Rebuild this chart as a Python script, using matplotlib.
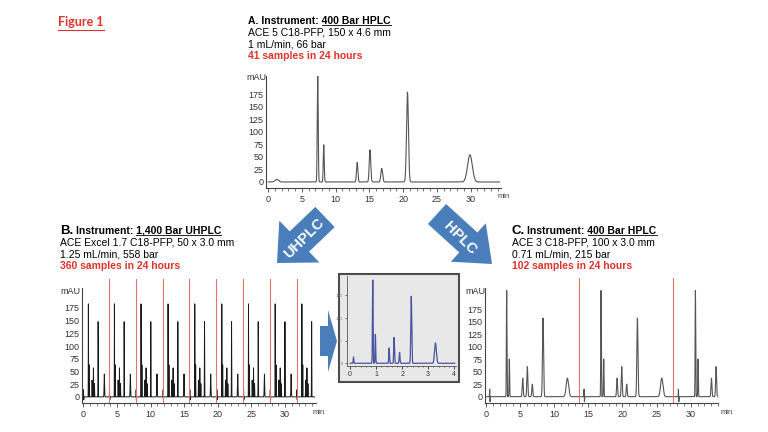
import numpy as np
import matplotlib
matplotlib.use("Agg")
import matplotlib.pyplot as plt
from matplotlib.patches import FancyArrow, Rectangle
from matplotlib.ticker import MultipleLocator

W, H = 768, 432
plt.rcParams['font.family'] = ['Liberation Sans', 'DejaVu Sans']

RED = '#e0322b'
BLUE = '#4a7ebb'

# panel A: 400 bar HPLC, one run (last entry of each list = baseline bump)
a_rt = [7.36, 8.25, 13.2, 15.1, 16.84, 20.65, 29.9, 1.3]
a_height = [211, 74, 39, 64, 27, 179, 54, 5]
a_sigma = [0.07, 0.07, 0.1, 0.11, 0.13, 0.14, 0.35, 0.25]

# panel B: 1400 bar UHPLC, peaks after each injection (last entry = injection dip)
b_rt = [0.07, 0.8, 0.93, 1.35, 1.55, 1.7, 2.25, 3.17, 0.11]
b_height = [14, 183, 63, 33, 57, 26, 148, 45, -6]
b_sigma = [0.012, 0.012, 0.012, 0.014, 0.015, 0.016, 0.018, 0.035, 0.008]
b_inject = [-0.05, 3.82, 7.78, 11.8, 15.77, 19.79, 23.76, 27.73, 31.7]
b_red = [3.82, 7.78, 11.8, 15.77, 19.79, 23.76, 27.73, 31.7]

# inset: one UHPLC run, 0-4 min
in_rt = [0.13, 0.87, 0.97, 1.5, 1.69, 1.9, 2.35, 3.28]
in_height = [14, 184, 64, 34, 57, 24, 148, 45]
in_sigma = [0.012, 0.012, 0.012, 0.014, 0.015, 0.016, 0.018, 0.035]

# panel C: 400 bar HPLC, short column (last entry = injection dip)
c_rt = [0.54, 3.03, 3.42, 5.38, 6.06, 6.79, 8.36, 11.93, 0.6]
c_height = [15, 212, 75, 37, 60, 25, 157, 37, -10]
c_sigma = [0.02, 0.04, 0.04, 0.07, 0.07, 0.07, 0.08, 0.18, 0.02]
c_inject = [0, 13.83, 27.66]
c_red = [13.64, 27.47]

x_ticks = [0, 5, 10, 15, 20, 25, 30]
y_ticks = [0, 25, 50, 75, 100, 125, 150, 175]


def chrom(t, starts, rts, hs, sig):
    y = np.zeros_like(t)
    for s0 in starts:
        for r, h, s in zip(rts, hs, sig):
            y += h * np.exp(-0.5 * ((t - s0 - r) / s) ** 2)
    return y


fig = plt.figure(figsize=(7.68, 4.32), dpi=100)
ov = fig.add_axes([0, 0, 1, 1])
ov.set_xlim(0, W)
ov.set_ylim(H, 0)
ov.axis('off')
renderer = fig.canvas.get_renderer()


def pix_axes(x0, y0, x1, y1):
    return fig.add_axes([x0 / W, 1 - y1 / H, (x1 - x0) / W, (y1 - y0) / H])


def style(ax, xlim, ylim, ytop):
    ax.set_xlim(*xlim)
    ax.set_ylim(*ylim)
    ax.patch.set_visible(False)
    for s in ['top', 'right']:
        ax.spines[s].set_visible(False)
    for s in ['left', 'bottom']:
        ax.spines[s].set_color('#444444')
        ax.spines[s].set_linewidth(0.8)
    ax.spines['left'].set_bounds(ylim[0], ytop)
    ax.set_xticks(x_ticks)
    ax.xaxis.set_minor_locator(MultipleLocator(1))
    ax.set_yticks(y_ticks)
    ax.tick_params(axis='x', which='major', direction='out', length=3, width=0.6,
                   labelsize=6.5, pad=2, color='#444444', labelcolor='#333333')
    ax.tick_params(axis='x', which='minor', direction='out', length=1.8, width=0.5,
                   color='#444444')
    ax.tick_params(axis='y', length=0, labelsize=6.5, pad=2, labelcolor='#333333')


def width_of(t):
    return t.get_window_extent(renderer).width


def headline(x, y, letter, part, big):
    if big:
        tl = ov.text(x, y, letter, fontsize=9.5, weight='bold', va='baseline')
        x += width_of(tl) + 2.5
        rest = 'Instrument: ' + part
    else:
        rest = letter + ' Instrument: ' + part
    tf = ov.text(x, y, rest, fontsize=7.5, weight='bold', va='baseline')
    tp = ov.text(0, 0, part, fontsize=7.5, weight='bold')
    wp = width_of(tp)
    tp.remove()
    x1 = x + width_of(tf)
    ov.plot([x1 - wp, x1], [y + 1.6, y + 1.6], color='#222222', lw=0.7)


def block(x, y0, letter, part, lines, red, big):
    headline(x, y0, letter, part, big)
    ov.text(x, y0 + 12, lines[0], fontsize=7.5, va='baseline')
    ov.text(x, y0 + 23.5, lines[1], fontsize=7.5, va='baseline')
    ov.text(x, y0 + 35, red, fontsize=7.5, weight='bold', color=RED, va='baseline')


# figure label
tfig = ov.text(58, 26, 'Figure 1', fontsize=9, weight='bold', color=RED,
               family=['Lato', 'DejaVu Sans'], va='baseline')
ov.plot([58, 58 + width_of(tfig)], [29.5, 29.5], color=RED, lw=0.8)

block(248, 23.7, 'A.', '400 Bar HPLC',
      ['ACE 5 C18-PFP, 150 x 4.6 mm', '1 mL/min, 66 bar'],
      '41 samples in 24 hours', False)
block(60, 233.7, 'B.', '1,400 Bar UHPLC',
      ['ACE Excel 1.7 C18-PFP, 50 x 3.0 mm', '1.25 mL/min, 558 bar'],
      '360 samples in 24 hours', True)
block(511.7, 233.7, 'C.', '400 Bar HPLC',
      ['ACE 3 C18-PFP, 100 x 3.0 mm', '0.71 mL/min, 215 bar'],
      '102 samples in 24 hours', True)

# arrows
ov.add_patch(FancyArrow(325, 217, -48, 46, width=28, head_width=58, head_length=31,
                        length_includes_head=True, color=BLUE, lw=0))
ov.text(304, 238, 'UHPLC', rotation=45, fontsize=10.5, weight='bold', color='white',
        ha='center', va='center', rotation_mode='anchor')
ov.add_patch(FancyArrow(437, 214, 55, 50, width=27, head_width=52, head_length=32,
                        length_includes_head=True, color=BLUE, lw=0))
ov.text(460, 238, 'HPLC', rotation=-45, fontsize=10.5, weight='bold', color='white',
        ha='center', va='center', rotation_mode='anchor')
ov.add_patch(FancyArrow(320, 341, 17, 0, width=30, head_width=62, head_length=9,
                        length_includes_head=True, color=BLUE, lw=0))

# inset frame
ov.add_patch(Rectangle((339.3, 274.3), 120, 107.4, facecolor='#e8e8e8',
                       edgecolor='#4d4d4d', lw=1.5))

# axis labels
ov.text(256, 77, 'mAU', fontsize=6.5, ha='center', va='center', color='#333333')
ov.text(70, 291, 'mAU', fontsize=6.5, ha='center', va='center', color='#333333')
ov.text(475, 291, 'mAU', fontsize=6.5, ha='center', va='center', color='#333333')
ov.text(504, 197, 'min', fontsize=5.5, ha='center', va='center', color='#444444')
ov.text(319, 412, 'min', fontsize=5.5, ha='center', va='center', color='#444444')
ov.text(727, 412, 'min', fontsize=5.5, ha='center', va='center', color='#444444')

# panel A
ax_a = pix_axes(266, 76, 501, 188)
style(ax_a, (-0.3, 34.5), (-12, 211), 211)
t = np.arange(0, 34.3, 0.002)
ax_a.plot(t, chrom(t, [0], a_rt, a_height, a_sigma), color='#555555', lw=0.8)

# panel B
ax_b = pix_axes(82, 279, 316, 403)
style(ax_b, (-0.2, 34.6), (-12, 232), 214)
t = np.arange(-0.1, 34.4, 0.001)
ax_b.plot(t, chrom(t, b_inject, b_rt, b_height, b_sigma), color='#1a1a1a', lw=0.7)
for xr in b_red:
    ax_b.axvline(xr, color='#e87070', lw=0.8)

# panel C
ax_c = pix_axes(485.3, 278, 718, 402.7)
style(ax_c, (-0.1, 34), (-12, 237), 218)
t = np.arange(0, 34, 0.002)
ax_c.plot(t, chrom(t, c_inject, c_rt, c_height, c_sigma), color='#555555', lw=0.8)
for xr in c_red:
    ax_c.axvline(xr, color='#e87070', lw=0.8)

# inset
ax_i = pix_axes(347, 276, 456, 366)
ax_i.set_xlim(-0.12, 4.07)
ax_i.set_ylim(-6, 193)
ax_i.patch.set_visible(False)
for s in ['top', 'right']:
    ax_i.spines[s].set_visible(False)
for s in ['left', 'bottom']:
    ax_i.spines[s].set_color('#555555')
    ax_i.spines[s].set_linewidth(0.6)
ax_i.set_xticks([0, 1, 2, 3, 4])
ax_i.xaxis.set_minor_locator(MultipleLocator(0.2))
ax_i.set_yticks([0, 50, 100, 150])
ax_i.tick_params(axis='x', which='major', length=2, width=0.5, labelsize=5, pad=1.5,
                 labelcolor='#333333')
ax_i.tick_params(axis='x', which='minor', length=1, width=0.4)
ax_i.tick_params(axis='y', length=1.5, width=0.4, labelsize=3, pad=1.5, labelcolor='#777777')
t = np.arange(0, 4.02, 0.001)
ax_i.plot(t, chrom(t, [0], in_rt, in_height, in_sigma), color='#4b55a0', lw=0.9)

fig.savefig('out.png', dpi=100)
